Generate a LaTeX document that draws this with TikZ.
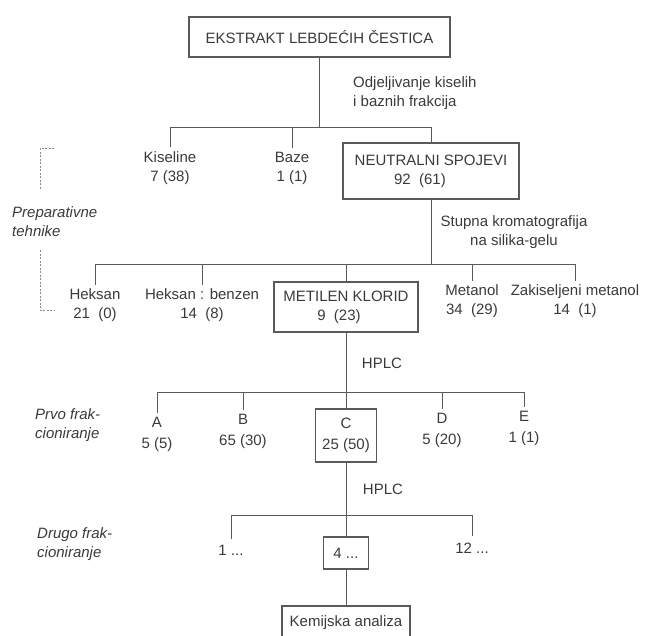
\documentclass[tikz,border=0pt]{standalone}
\usepackage{fontspec}
\setmainfont{Liberation Sans}
\definecolor{txt}{HTML}{3A3A3A}
\definecolor{ln}{HTML}{5A5A5A}
\begin{document}
\begin{tikzpicture}[x=1pt,y=-1pt,
  every node/.style={font=\fontsize{15}{19}\selectfont, text=txt},
  box/.style={draw=ln, line width=1.1pt, inner sep=0pt, align=center},
  lbl/.style={inner sep=4pt, align=center},
  side/.style={inner sep=0pt, align=left, anchor=west, font=\fontsize{15}{19}\selectfont\itshape},
  conn/.style={draw=ln, line width=0.9pt},
  brk/.style={draw=ln!70, line width=0.7pt, dash pattern=on 2pt off 1.5pt}]
\useasboundingbox (0,0) rectangle (645,635);
% level 0
\node[box, minimum width=261pt, minimum height=40pt] (top) at (319.5,37) {EKSTRAKT LEBDEĆIH ČESTICA};
\node[inner sep=0pt, align=left, anchor=west] (sep1) at (353,93) {Odjeljivanje kiselih\\i baznih frakcija};
\coordinate (j1) at (319.5,127);
\draw[conn] (top) -- (j1);
% level 1
\node[lbl] (kis) at (170,168) {Kiseline\\7 (38)};
\node[lbl] (baz) at (292,168) {Baze\\1 (1)};
\node[box, minimum width=176pt, minimum height=56pt] (neu) at (431,171) {NEUTRALNI SPOJEVI\\\hspace*{-22pt}92~~(61)};
\draw[conn] (j1) -| (kis.north);
\draw[conn] (j1) -| (baz.north);
\draw[conn] (j1) -| (neu.north);
\node[lbl] (stu) at (514,232.5) {Stupna kromatografija\\na silika-gelu};
\coordinate (j2) at (431,264);
\draw[conn] (neu) -- (j2);
% level 2
\node[lbl] (hek) at (95,305.5) {Heksan\\21~~(0)};
\node[lbl] (hb) at (202,305.5) {Heksan : benzen\\14~~(8)};
\node[box, minimum width=144pt, minimum height=50pt] (mk) at (346,307) {METILEN KLORID\\\hspace*{-14pt}9~~(23)};
\node[lbl] (mol) at (472,301.5) {Metanol\\34~~(29)};
\node[lbl] (zak) at (575,301.5) {Zakiseljeni metanol\\14~~(1)};
\draw[conn] (j2) -| (hek.north);
\draw[conn] (j2) -| (hb.north);
\draw[conn] (j2) -| (mk.north);
\draw[conn] (j2) -| (mol.north);
\draw[conn] (j2) -| (zak.north);
\node[inner sep=0pt] (h1) at (382,363) {HPLC};
\coordinate (j3) at (346,392);
\draw[conn] (mk) -- (j3);
% level 3
\begin{scope}[every node/.append style={font=\fontsize{15}{21}\selectfont}]
\node[lbl] (a) at (157,434) {A\\5 (5)};
\node[lbl] (b) at (243,431.5) {B\\65 (30)};
\node[box, minimum width=61pt, minimum height=53pt] (c) at (346,435.5) {C\\25 (50)};
\node[lbl] (d) at (442,430) {D\\5 (20)};
\node[lbl] (e) at (524,428.5) {E\\1 (1)};
\end{scope}
\draw[conn] (j3) -| (a.north);
\draw[conn] (j3) -| (b.north);
\draw[conn] (j3) -| (c.north);
\draw[conn] (j3) -| (d.north);
\draw[conn] (j3) -| (e.north);
\node[inner sep=0pt] (h2) at (383,489) {HPLC};
\coordinate (j4) at (346,515);
\draw[conn] (c) -- (j4);
% level 4
\node[lbl, inner sep=6pt] (one) at (231,550) {1 ...};
\node[box, minimum width=45pt, minimum height=32pt] (four) at (346,553) {4 ...};
\node[lbl, inner sep=7pt] (twelve) at (472,548) {12 ...};
\draw[conn] (j4) -| (one.north);
\draw[conn] (j4) -| (four.north);
\draw[conn] (j4) -| (twelve.north);
\node[box, minimum width=128pt, minimum height=34pt] (kem) at (346,623) {Kemijska analiza};
\draw[conn] (four) -- (kem);
% side labels
\node[side] (prep) at (12,221.5) {Preparativne\\tehnike};
\node[side] (prvo) at (35,425) {Prvo frak-\\cioniranje};
\node[side] (drugo) at (37,544) {Drugo frak-\\cioniranje};
\draw[brk] (54,148) -- (40,148) -- (40,190);
\draw[brk] (40,250) -- (40,310) -- (55,310);
\end{tikzpicture}
\end{document}
